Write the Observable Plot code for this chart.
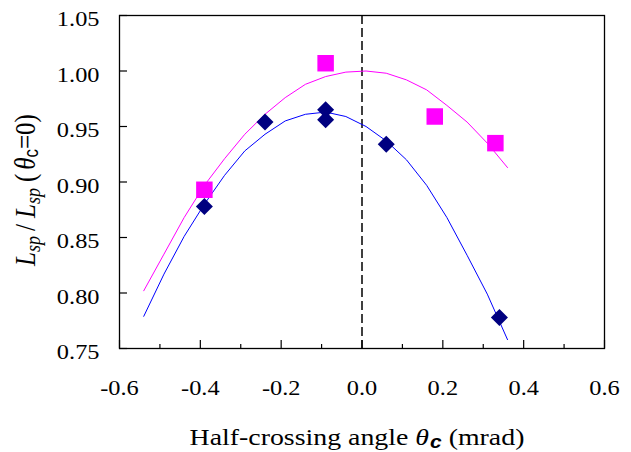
<!DOCTYPE html>
<html><head><meta charset="utf-8">
<script src="https://cdn.jsdelivr.net/npm/d3@7"></script>
<script src="https://cdn.jsdelivr.net/npm/@observablehq/plot@0.6"></script>
<style>body{margin:0;background:#fff} #chart svg{font-family:"Liberation Serif",serif;background:#fff}</style>
</head><body><div id="chart"></div>
<script>
const squareX = [-0.39, -0.09, 0.18, 0.33];
const squareY = [0.893, 1.007, 0.959, 0.935];
const diamondX = [-0.39, -0.24, -0.09, -0.09, 0.06, 0.34];
const diamondY = [0.878, 0.954, 0.965, 0.956, 0.934, 0.778];
const curveX = [-0.54, -0.49, -0.44, -0.39, -0.34, -0.29, -0.24, -0.19, -0.14, -0.09, -0.04, 0.01, 0.06, 0.11, 0.16, 0.21, 0.26, 0.31, 0.36];
const magentaY = [0.802, 0.835, 0.868, 0.897, 0.921, 0.943, 0.961, 0.976, 0.988, 0.995, 0.999, 1.000, 0.998, 0.992, 0.983, 0.969, 0.954, 0.935, 0.913];
const blueY = [0.779, 0.817, 0.851, 0.880, 0.906, 0.928, 0.943, 0.955, 0.961, 0.963, 0.959, 0.950, 0.937, 0.920, 0.897, 0.868, 0.834, 0.799, 0.758];
const xTicks = [-0.6, -0.4, -0.2, 0, 0.2, 0.4, 0.6];
const xMinor = [-0.5, -0.3, -0.1, 0.1, 0.3, 0.5];
const yTicks = [0.75, 0.80, 0.85, 0.90, 0.95, 1.00, 1.05];

const squares = squareX.map((x, i) => ({x, y: squareY[i]}));
const diamonds = diamondX.map((x, i) => ({x, y: diamondY[i]}));
const magenta = curveX.map((x, i) => ({x, y: magentaY[i]}));
const blue = curveX.map((x, i) => ({x, y: blueY[i]}));

const chart = Plot.plot({
  width: 631, height: 452,
  marginLeft: 119, marginRight: 27, marginTop: 15, marginBottom: 104,
  x: {domain: [-0.6, 0.6]},
  y: {domain: [0.75, 1.05]},
  style: {fontFamily: "Liberation Serif", fontSize: "21px", color: "#000", background: "#fff"},
  marks: [
    Plot.ruleX([0], {stroke: "#000", strokeWidth: 1.5, strokeDasharray: "9,4"}),
    Plot.line(magenta, {x: "x", y: "y", stroke: "#FF00FF", strokeWidth: 1}),
    Plot.line(blue, {x: "x", y: "y", stroke: "#0000FF", strokeWidth: 1}),
    Plot.dot(squares, {x: "x", y: "y", symbol: "square", r: 9.3, fill: "#FF00FF", stroke: "none"}),
    Plot.dot(diamonds, {x: "x", y: "y", symbol: "square", r: 6.8, rotate: 45, fill: "#000080", stroke: "none"}),
    Plot.axisY(yTicks, {tickSize: -8, text: null, label: null, stroke: "#000", strokeWidth: 1.2}),
    Plot.axisY(yTicks, {tickSize: 0, tickPadding: 20, label: null, tickFormat: d => d.toFixed(2), fontSize: 21, fill: "#000"}),
    Plot.axisX(xTicks, {tickSize: -8, text: null, label: null, stroke: "#000", strokeWidth: 1.2}),
    Plot.axisX(xMinor, {tickSize: -4, text: null, label: null, stroke: "#000", strokeWidth: 1.2}),
    Plot.axisX(xTicks, {tickSize: 0, tickPadding: 32, label: null, tickFormat: d => d.toFixed(1), fontSize: 21, fill: "#000"}),
    Plot.frame({stroke: "#000", strokeWidth: 1.3})
  ]
});
document.getElementById("chart").appendChild(chart);

const svg = d3.select(chart);
// the reference's glyphs are slightly wider than tall: stretch tick labels horizontally
const SX = 1.16;
svg.selectAll('g[aria-label="y-axis tick label"] text').each(function() {
  const t = d3.select(this);
  t.attr("transform", (t.attr("transform") || "") + ` translate(0,4) scale(${SX},1)`);
});
svg.selectAll('g[aria-label="x-axis tick label"] text').each(function() {
  const t = d3.select(this);
  t.attr("transform", (t.attr("transform") || "") + ` scale(${SX},1)`);
});

// x-axis title
const xt = svg.append("text")
  .attr("transform", `translate(357,445) scale(${SX},1)`)
  .attr("text-anchor", "middle")
  .attr("font-family", "Liberation Serif").attr("font-size", 24).attr("fill", "#000");
xt.append("tspan").text("Half-crossing angle ");
xt.append("tspan").attr("font-style", "italic").text("θ");
xt.append("tspan").attr("font-family", "Liberation Sans").attr("font-style", "italic").attr("font-weight", "bold").attr("font-size", 18).attr("dy", 3).attr("dx", 1).text("c");
xt.append("tspan").attr("dy", -3).text(" (mrad)");

// y-axis title
const yt = svg.append("text")
  .attr("transform", `translate(35,190) rotate(-90) scale(1,${SX})`)
  .attr("text-anchor", "middle")
  .attr("font-family", "Liberation Serif").attr("font-size", 25).attr("fill", "#000");
yt.append("tspan").attr("font-style", "italic").text("L");
yt.append("tspan").attr("font-style", "italic").attr("font-size", 18).attr("dy", 4).text("sp");
yt.append("tspan").attr("dy", -4).attr("dx", 5).text("/");
yt.append("tspan").attr("dx", 6).attr("font-style", "italic").text("L");
yt.append("tspan").attr("font-style", "italic").attr("font-size", 18).attr("dy", 4).text("sp");
yt.append("tspan").attr("dy", -4).attr("dx", 6).text("(");
yt.append("tspan").attr("dx", 4).attr("font-style", "italic").text("θ");
yt.append("tspan").attr("font-family", "Liberation Sans").attr("font-size", 17).attr("dy", 3).text("c");
yt.append("tspan").attr("dy", -3).text("=0)");
</script>
</body></html>
